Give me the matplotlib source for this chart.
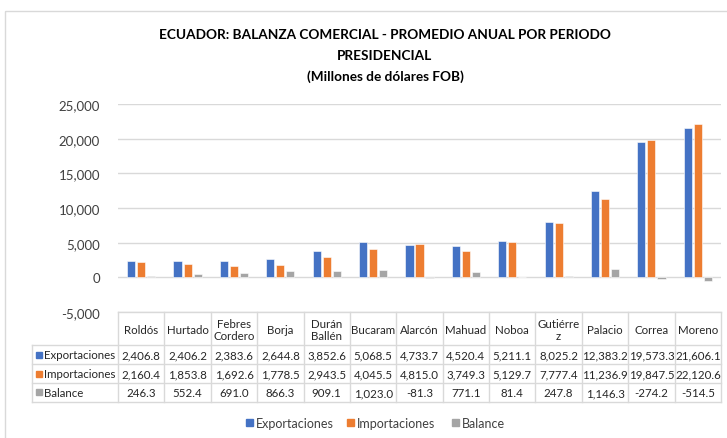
from matplotlib import pyplot as plt
from matplotlib.patches import Rectangle
import numpy as np

plt.rcParams['font.family'] = ['Lato', 'DejaVu Sans']

presidentes = ['Roldós', 'Hurtado', 'Febres\nCordero', 'Borja', 'Durán\nBallén', 'Bucaram',
               'Alarcón', 'Mahuad', 'Noboa', 'Gutiérre\nz', 'Palacio', 'Correa', 'Moreno']
exportaciones = [2406.8, 2406.2, 2383.6, 2644.8, 3852.6, 5068.5, 4733.7, 4520.4, 5211.1,
                 8025.2, 12383.2, 19573.3, 21606.1]
importaciones = [2160.4, 1853.8, 1692.6, 1778.5, 2943.5, 4045.5, 4815.0, 3749.3, 5129.7,
                 7777.4, 11236.9, 19847.5, 22120.6]
balance = [246.3, 552.4, 691.0, 866.3, 909.1, 1023.0, -81.3, 771.1, 81.4, 247.8, 1146.3,
           -274.2, -514.5]
series = ['Exportaciones', 'Importaciones', 'Balance']
colores = ['#4472C4', '#ED7D31', '#A5A5A5']
yticks = [-5000, 0, 5000, 10000, 15000, 20000, 25000]

W, H = 727, 439
fig = plt.figure(figsize=(W / 100, H / 100), dpi=100)

# pixel geometry
x0, x1 = 118, 721
ytop, ybot = 105, 313
ncat = len(presidentes)
colw = (x1 - x0) / ncat

ax = fig.add_axes([x0 / W, 1 - ybot / H, (x1 - x0) / W, (ybot - ytop) / H])
ax.set_xlim(-0.5, ncat - 0.5)
ax.set_ylim(-5000, 25000)
ax.set_yticks(yticks)
ax.set_yticklabels([f'{v:,}' for v in yticks], fontsize=9.5, color='#404040')
ax.tick_params(axis='y', length=0, pad=13)
ax.tick_params(axis='x', bottom=False, labelbottom=False)
for s in ax.spines.values():
    s.set_visible(False)
ax.grid(axis='y', color='#D9D9D9', linewidth=1)
ax.set_axisbelow(True)

x = np.arange(ncat)
bw = 0.175
off = 0.216
for k, vals in enumerate([exportaciones, importaciones, balance]):
    ax.bar(x + (k - 1) * off, vals, bw, color=colores[k], edgecolor='white',
           linewidth=0.4, zorder=3)

# overlay in pixel coordinates for frame, title, table and legend
ov = fig.add_axes([0, 0, 1, 1], zorder=-1)
ov.set_xlim(0, W)
ov.set_ylim(H, 0)
ov.axis('off')
ov.add_patch(Rectangle((4.5, 11.5), W + 10, H + 10, fill=False, edgecolor='#D9D9D9', lw=1))

ov2 = fig.add_axes([0, 0, 1, 1])
ov2.set_xlim(0, W)
ov2.set_ylim(H, 0)
ov2.axis('off')
ov2.patch.set_alpha(0)

tk = dict(ha='center', va='center', fontsize=9.8, fontweight='bold', color='#000000')
ov2.text(385, 35, 'ECUADOR: BALANZA COMERCIAL - PROMEDIO ANUAL POR PERIODO', **tk)
ov2.text(385, 56, 'PRESIDENCIAL', **tk)
ov2.text(385, 77, '(Millones de dólares FOB)', **tk)

# data table
lc = '#D9D9D9'
tl = 31.5
rows = [313, 346, 365, 384, 403]
ov2.plot([x0, x1], [rows[0], rows[0]], color=lc, lw=1)
for r in rows[1:]:
    ov2.plot([tl, x1], [r, r], color=lc, lw=1)
ov2.plot([tl, tl], [rows[1], rows[-1]], color=lc, lw=1)
for i in range(ncat + 1):
    xc = x0 + i * colw
    ov2.plot([xc, xc], [rows[0], rows[-1]], color=lc, lw=1)

for i, name in enumerate(presidentes):
    xc = x0 + (i + 0.5) * colw
    ov2.text(xc, (rows[0] + rows[1]) / 2 + 1, name, ha='center', va='center', fontsize=8.3,
             color='#262626', linespacing=1.15)
    for j, vals in enumerate([exportaciones, importaciones, balance]):
        ov2.text(xc, (rows[j + 1] + rows[j + 2]) / 2, f'{vals[i]:,.1f}', ha='center',
                 va='center', fontsize=8.3, color='#262626')

for j, nm in enumerate(series):
    yc = (rows[j + 1] + rows[j + 2]) / 2
    ov2.add_patch(Rectangle((35.5, yc - 3), 6, 6, color=colores[j]))
    ov2.text(44, yc, nm, ha='left', va='center', fontsize=8.3, color='#262626')

# legend
leg_x = [246, 347, 452]
for j, nm in enumerate(series):
    ov2.add_patch(Rectangle((leg_x[j], 420.5), 7, 7, color=colores[j]))
    ov2.text(leg_x[j] + 10, 424, nm, ha='left', va='center', fontsize=9, color='#404040')

plt.savefig('out.png', dpi=100)
